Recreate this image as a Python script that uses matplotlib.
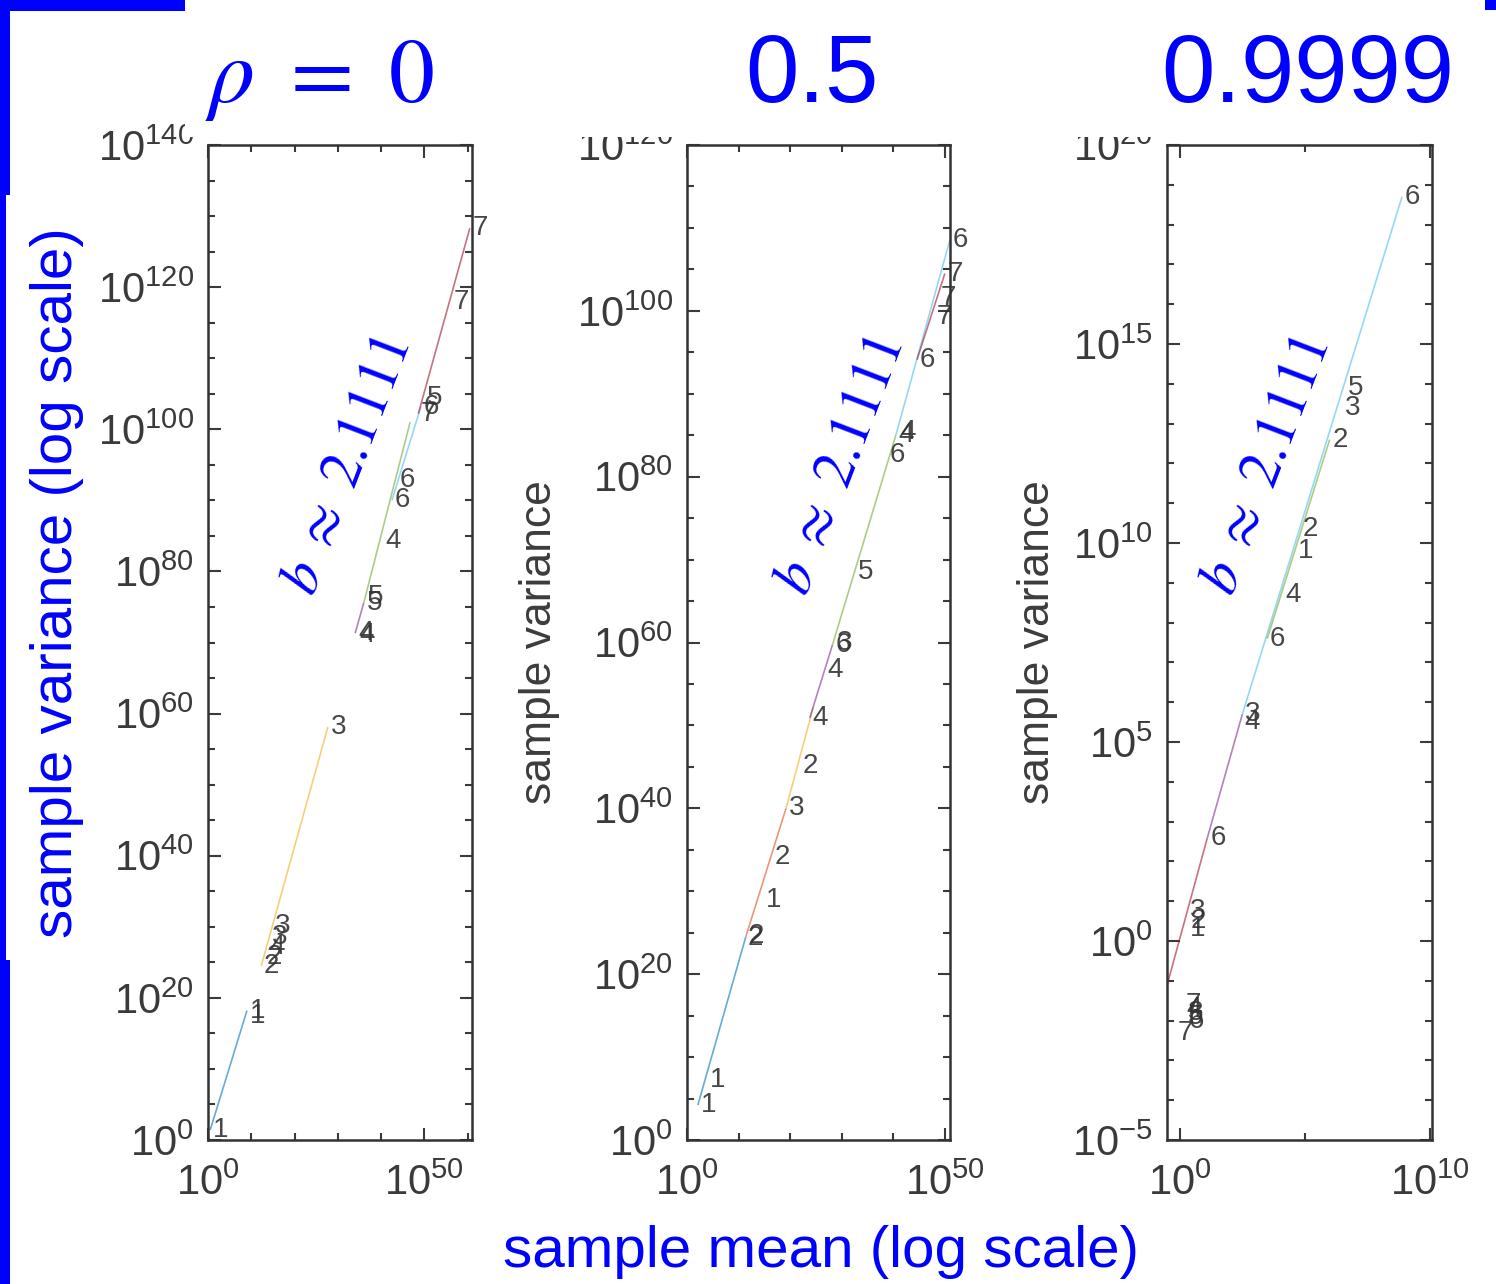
import matplotlib
matplotlib.use('Agg')
import matplotlib.pyplot as plt
from matplotlib.patches import Rectangle
from matplotlib.ticker import FixedLocator, FixedFormatter
import matplotlib.transforms as mtrans

plt.rcParams['font.family'] = ['Liberation Sans', 'DejaVu Sans']
plt.rcParams['mathtext.fontset'] = 'custom'
plt.rcParams['mathtext.rm'] = 'Liberation Sans'
plt.rcParams['mathtext.it'] = 'Liberation Sans:italic'
plt.rcParams['mathtext.bf'] = 'Liberation Sans:bold'

W, H = 1496, 1284

# ---------------- data (log10 of sample mean / sample variance) ----------------
titles = ['0.5', '0.9999']
slope_text = r'$b\ \approx\ 2.1111$'
line_colors = ['#0072BD', '#D95319', '#EDB120', '#7E2F8E', '#77AC30', '#4DBEEE', '#A2142F']

# panel 1 (rho = 0)
p1_lab_x = [0.5, 9.0, 9.1, 12.3, 12.9, 13.5, 14.2, 14.9, 27.7, 34.0, 34.3, 36.0, 36.4, 40.4,
            42.5, 43.6, 48.6, 49.2, 50.0, 56.1, 60.5]
p1_lab_y = [1.4, 18.2, 17.5, 24.5, 25.8, 27.2, 28.6, 30.1, 58.1, 71.3, 71.0, 75.6, 76.4, 84.3,
            90.0, 92.9, 102.2, 103.2, 104.4, 117.9, 128.3]
p1_lab_txt = ['1', '1', '1', '2', '2', '4', '3', '3', '3', '4', '4', '5', '5', '4',
              '6', '6', '7', '6', '5', '7', '7']
p1_seg_x0 = [0.5, 12.3, 34.0, 36.0, 42.5, 48.6]
p1_seg_y0 = [1.4, 24.5, 71.3, 75.6, 90.0, 102.2]
p1_seg_x1 = [9.0, 27.7, 36.0, 46.7, 49.2, 60.5]
p1_seg_y1 = [18.2, 58.1, 75.6, 101.0, 103.2, 128.3]
p1_seg_c = [1, 3, 4, 5, 6, 7]

# panel 2 (rho = 0.5)
p2_lab_x = [2.1, 3.9, 11.3, 11.5, 14.7, 16.5, 19.2, 21.9, 23.8, 26.7, 28.2, 28.5, 32.6,
            38.8, 40.5, 40.9, 44.6, 47.8, 48.6, 50.0, 51.0]
p2_lab_y = [4.2, 7.2, 24.4, 24.6, 29.0, 34.1, 40.0, 45.1, 50.9, 56.7, 59.7, 60.0, 68.5,
            82.6, 85.0, 85.4, 94.1, 99.2, 101.6, 104.5, 108.6]
p2_lab_txt = ['1', '1', '2', '2', '1', '2', '3', '2', '4', '4', '6', '3', '5',
              '6', '4', '4', '6', '7', '7', '7', '6']
p2_seg_x0 = [2.1, 11.4, 19.2, 23.8, 28.2, 40.5, 44.6]
p2_seg_y0 = [4.2, 24.5, 40.0, 50.9, 59.7, 85.0, 94.1]
p2_seg_x1 = [11.4, 19.2, 24.5, 28.2, 40.5, 51.0, 50.0]
p2_seg_y1 = [24.5, 40.0, 52.2, 59.7, 85.0, 108.6, 104.5]
p2_seg_c = [1, 2, 3, 4, 5, 6, 7]

# panel 3 (rho = 0.9999)
p3_lab_x = [8.9, 6.6, 6.5, 6.0, 4.8, 4.6, 4.1, 3.5, 2.5, 2.45, 1.1, 0.3, 0.3, 0.3,
            0.1, 0.15, 0.2, 0.25, 0.2, -0.2]
p3_lab_y = [18.7, 13.9, 13.4, 12.6, 10.35, 9.8, 8.7, 7.6, 5.7, 5.5, 2.6, 0.75, 0.5, 0.3,
            -1.6, -1.7, -1.9, -2.0, -1.8, -2.3]
p3_lab_txt = ['6', '5', '3', '2', '2', '1', '4', '6', '3', '4', '6', '3', '2', '1',
              '7', '4', '5', '6', '3', '7']
p3_seg_x0 = [-0.6, 1.1, 2.5, 3.5]
p3_seg_y0 = [-1.3, 2.6, 5.7, 7.6]
p3_seg_x1 = [1.1, 2.5, 8.9, 6.0]
p3_seg_y1 = [2.6, 5.7, 18.7, 12.6]
p3_seg_c = [7, 4, 6, 5]

# axis ranges / ticks (exponents)
p1_xlim, p1_ylim = (0, 61), (0, 140)
p1_xmaj, p1_xmin = [0, 50], [10, 20, 30, 40, 60]
p1_ymaj, p1_ymin = [0, 20, 40, 60, 80, 100, 120, 140], [5 * k for k in range(29) if k % 4]

p2_xlim, p2_ylim = (0, 51), (0, 120)
p2_xmaj, p2_xmin = [0, 50], [10, 20, 30, 40]
p2_ymaj, p2_ymin = [0, 20, 40, 60, 80, 100, 120], [5 * k for k in range(25) if k % 4]

p3_xlim, p3_ylim = (-0.52, 10.1), (-5, 20)
p3_xmaj, p3_xmin = [0, 10], [5]
p3_ymaj, p3_ymin = [-5, 0, 5, 10, 15, 20], [k for k in range(-5, 21) if k % 5]

# ---------------- figure ----------------
fig = plt.figure(figsize=(W / 100, H / 100), dpi=100)
fig.patch.set_facecolor('white')

def fx(px):
    return px / W

def fy(py):
    return 1 - py / H

panels = [
    dict(left=208, right=472, lx=p1_lab_x, ly=p1_lab_y, lt=p1_lab_txt,
         sx0=p1_seg_x0, sy0=p1_seg_y0, sx1=p1_seg_x1, sy1=p1_seg_y1, sc=p1_seg_c,
         xlim=p1_xlim, ylim=p1_ylim, xmaj=p1_xmaj, xmin=p1_xmin, ymaj=p1_ymaj, ymin=p1_ymin),
    dict(left=687, right=950, lx=p2_lab_x, ly=p2_lab_y, lt=p2_lab_txt,
         sx0=p2_seg_x0, sy0=p2_seg_y0, sx1=p2_seg_x1, sy1=p2_seg_y1, sc=p2_seg_c,
         xlim=p2_xlim, ylim=p2_ylim, xmaj=p2_xmaj, xmin=p2_xmin, ymaj=p2_ymaj, ymin=p2_ymin),
    dict(left=1167, right=1432, lx=p3_lab_x, ly=p3_lab_y, lt=p3_lab_txt,
         sx0=p3_seg_x0, sy0=p3_seg_y0, sx1=p3_seg_x1, sy1=p3_seg_y1, sc=p3_seg_c,
         xlim=p3_xlim, ylim=p3_ylim, xmaj=p3_xmaj, xmin=p3_xmin, ymaj=p3_ymaj, ymin=p3_ymin),
]

top, bottom = 145, 1140
tick_col = '#3a3a3a'
for p in panels:
    ax = fig.add_axes([fx(p['left']), fy(bottom), (p['right'] - p['left']) / W, (bottom - top) / H])
    ax.set_xscale('log')
    ax.set_yscale('log')
    ax.set_xlim(10.0 ** p['xlim'][0], 10.0 ** p['xlim'][1])
    ax.set_ylim(10.0 ** p['ylim'][0], 10.0 ** p['ylim'][1])
    for x0, y0, x1, y1, c in zip(p['sx0'], p['sy0'], p['sx1'], p['sy1'], p['sc']):
        ax.plot([10.0 ** x0, 10.0 ** x1], [10.0 ** y0, 10.0 ** y1], color=line_colors[c - 1],
                lw=1.2, alpha=0.6, solid_capstyle='butt')
    off = mtrans.offset_copy(ax.transData, fig=fig, x=2, y=0, units='points')
    for x, y, t in zip(p['lx'], p['ly'], p['lt']):
        ax.text(10.0 ** x, 10.0 ** y, t, transform=off, ha='left', va='center',
                fontsize=20, color='#333333', alpha=0.9, clip_on=False)
    ax.xaxis.set_major_locator(FixedLocator([10.0 ** e for e in p['xmaj']]))
    ax.xaxis.set_minor_locator(FixedLocator([10.0 ** e for e in p['xmin']]))
    ax.yaxis.set_major_locator(FixedLocator([10.0 ** e for e in p['ymaj']]))
    ax.yaxis.set_minor_locator(FixedLocator([10.0 ** e for e in p['ymin']]))
    ax.xaxis.set_major_formatter(FixedFormatter([r'$10^{%d}$' % e for e in p['xmaj']]))
    ax.yaxis.set_major_formatter(FixedFormatter([r'$10^{%d}$' % e for e in p['ymaj']]))
    ax.xaxis.set_minor_formatter(FixedFormatter([''] * len(p['xmin'])))
    ax.yaxis.set_minor_formatter(FixedFormatter([''] * len(p['ymin'])))
    ax.tick_params(which='both', direction='in', top=True, right=True, color=tick_col,
                   width=1.5, labelcolor=tick_col, labelsize=30)
    ax.tick_params(which='major', length=9)
    ax.tick_params(which='minor', length=5)
    ax.tick_params(axis='y', which='major', pad=10)
    ax.tick_params(axis='x', which='major', pad=17)
    for s in ax.spines.values():
        s.set_color('#333333')
        s.set_linewidth(1.8)
    ax.set_facecolor('white')

# white cover over the top strip (clips the top tick labels like the slide)
fig.patches.append(Rectangle((fx(185), fy(137)), 1 - fx(185), 137 / H, transform=fig.transFigure,
                             facecolor='white', edgecolor='none', zorder=3))

# blue slide decorations
blue = '#0000FF'
for (x0, y0, w, h) in [(0, 0, 185, 11), (0, 0, 10, 195), (0, 195, 6, 765), (0, 960, 10, 324),
                       (1485, 0, 11, 10)]:
    fig.patches.append(Rectangle((fx(x0), fy(y0 + h)), w / W, h / H, transform=fig.transFigure,
                                 facecolor=blue, edgecolor='none', zorder=4))

# titles
fig.text(fx(205), fy(102), r'$\rho\ =\ 0$', color=blue, fontsize=66, math_fontfamily='stix',
         ha='left', va='baseline', zorder=5)
fig.text(fx(812), fy(102), titles[0], color=blue, fontsize=69, ha='center', va='baseline', zorder=5)
fig.text(fx(1308), fy(102), titles[1], color=blue, fontsize=69, ha='center', va='baseline', zorder=5)

# slope annotations
for cx in [347, 840, 1266]:
    fig.text(fx(cx), fy(466), slope_text, color=blue, fontsize=42, math_fontfamily='stix',
             rotation=69, rotation_mode='anchor', ha='center', va='center', zorder=5)

# axis labels
fig.text(fx(57), fy(583), 'sample variance (log scale)', color=blue, fontsize=42, rotation=90,
         ha='center', va='center', zorder=5)
fig.text(fx(821), fy(1252), 'sample mean (log scale)', color=blue, fontsize=42,
         ha='center', va='center', zorder=5)
for cx in [540, 1037]:
    fig.text(fx(cx), fy(642), 'sample variance', color='#3c3c3c', fontsize=32, rotation=90,
             ha='center', va='center', zorder=5)

fig.savefig('out.png', dpi=100)
